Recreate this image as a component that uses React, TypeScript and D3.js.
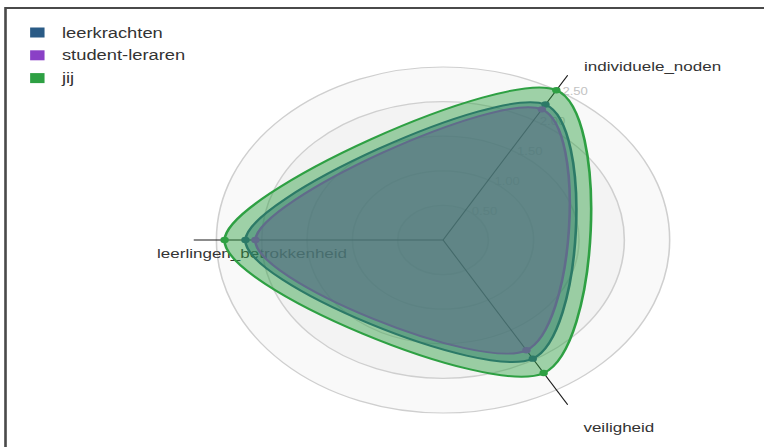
import React from "react";
import * as d3 from "d3";

const axes = ["individuele_noden", "veiligheid", "leerlingen_betrokkenheid"];
const seriesNames = ["leerkrachten", "student-leraren", "jij"];
const seriesColors = ["#2a5b86", "#8a40c6", "#2ea043"];
const seriesOpacity = [0.5, 0.5, 0.45];
const leerkrachten = [2.26, 1.98, 2.18];
const studentLeraren = [2.18, 1.84, 2.07];
const jij = [2.5, 2.22, 2.41];
const levels = [0.5, 1.0, 1.5, 2.0, 2.5];
const tickLabels = ["0.50", "1.00", "1.50", "2.00", "2.50"];

const W = 764;
const H = 447;
const SX = 1.31; // horizontal stretch of the whole picture
const CX = 338.2;
const CY = 240;
const R = 173;

export default function App() {
  const series = [leerkrachten, studentLeraren, jij];
  const r = d3.scaleLinear().domain([0, 2.5]).range([0, R]);
  const angle = d3
    .scaleLinear()
    .domain([0, axes.length])
    .range([-Math.PI / 3, -Math.PI / 3 + 2 * Math.PI]);
  const px = (v: number, i: number) => CX + r(v) * Math.cos(angle(i));
  const py = (v: number, i: number) => CY + r(v) * Math.sin(angle(i));
  const line = d3
    .line<number>()
    .x((d, i) => px(d, i))
    .y((d, i) => py(d, i))
    .curve(d3.curveCardinalClosed);

  const labelOffsets = [
    { dx: 12.5, dy: -4 },
    { dx: 12, dy: 27 },
    { dx: -28, dy: 18 },
  ];

  return (
    <svg
      width={W}
      height={H}
      style={{ position: "fixed", left: 0, top: 0, background: "#fff" }}
      fontFamily="'Liberation Sans', Arial, sans-serif"
    >
      <g transform={`scale(${SX},1)`}>
        {/* frame */}
        <rect x={4.2} y={8} width={700} height={600} fill="none" stroke="#4a4a4a" strokeWidth={2} />

        {/* rings */}
        {levels
          .slice()
          .reverse()
          .map((lv) => (
            <circle
              key={lv}
              cx={CX}
              cy={CY}
              r={r(lv)}
              fill="#CDCDCD"
              fillOpacity={0.12}
              stroke="#cfcfcf"
              strokeWidth={1.2}
            />
          ))}

        {/* tick labels */}
        {levels.map((lv, k) => (
          <text
            key={lv}
            x={px(lv, 0) + 4.6}
            y={py(lv, 0) + 5}
            fontSize={10}
            fill="#c2c2c2"
          >
            {tickLabels[k]}
          </text>
        ))}

        {/* axes */}
        {axes.map((a, i) => (
          <line
            key={a}
            x1={CX}
            y1={CY}
            x2={px(2.5 * 1.1, i)}
            y2={py(2.5 * 1.1, i)}
            stroke="#1a1a1a"
            strokeWidth={0.9}
          />
        ))}

        {/* axis labels (drawn beneath the areas) */}
        {axes.map((a, i) => (
          <text
            key={a}
            x={px(2.5 * 1.1, i) + labelOffsets[i].dx}
            y={py(2.5 * 1.1, i) + labelOffsets[i].dy}
            fontSize={13}
            fill="#333"
          >
            {a}
          </text>
        ))}

        {/* areas */}
        {series.map((s, si) => (
          <g key={seriesNames[si]}>
            <path
              d={line(s) || ""}
              fill={seriesColors[si]}
              fillOpacity={seriesOpacity[si]}
              stroke={seriesColors[si]}
              strokeWidth={2}
            />
            {s.map((v, i) => (
              <circle key={i} cx={px(v, i)} cy={py(v, i)} r={3.2} fill={seriesColors[si]} />
            ))}
          </g>
        ))}

        {/* legend */}
        {seriesNames.map((n, i) => (
          <g key={n} transform={`translate(0, ${32.5 + i * 22.8})`}>
            <rect x={23} y={-5} width={11} height={10} fill={seriesColors[i]} />
            <text x={47.3} y={5} fontSize={14} fill="#333">
              {n}
            </text>
          </g>
        ))}
      </g>
    </svg>
  );
}
